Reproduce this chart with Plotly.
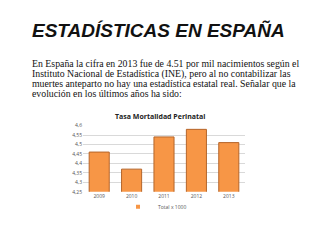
import plotly.graph_objects as go

years = ["2009", "2010", "2011", "2012", "2013"]
values = [4.46, 4.37, 4.54, 4.58, 4.51]
tick_vals = [4.25, 4.3, 4.35, 4.4, 4.45, 4.5, 4.55, 4.6]
tick_text = ["4,25", "4,3", "4,35", "4,4", "4,45", "4,5", "4,55", "4,6"]
series_name = "Total x 1000"
main_title = "ESTADÍSTICAS EN ESPAÑA"
chart_title = "Tasa Mortalidad Perinatal"
paragraph = [
    "En España la cifra en 2013 fue de 4.51 por mil nacimientos según el",
    "Instituto Nacional de Estadística (INE), pero al no contabilizar las",
    "muertes anteparto no hay una estadística estatal real. Señalar que la",
    "evolución en los últimos años ha sido:",
]

W, H = 320, 240
BAR = "#F79646"

def py(p):
    return 1 - p / H

fig = go.Figure()
fig.add_trace(go.Bar(
    x=years, y=values, name=series_name,
    marker=dict(color=BAR, line=dict(color="#B5652A", width=1)),
    showlegend=False,
))
fig.add_trace(go.Scatter(
    x=[None], y=[None], mode="markers", name=series_name,
    marker=dict(symbol="square", size=4, color=BAR),
    showlegend=True,
))

ann = [
    dict(text="<b><i>" + main_title + "</i></b>", x=158 / W, y=py(28), xref="paper", yref="paper",
         xanchor="center", yanchor="middle", showarrow=False,
         font=dict(family="Liberation Sans", size=19, color="#111111")),
    dict(text="<b>" + chart_title + "</b>", x=160 / W, y=py(116), xref="paper", yref="paper",
         xanchor="center", yanchor="middle", showarrow=False,
         font=dict(family="Open Sans", size=7, color="#222222")),
]
line_y = [62.5, 72.7, 82.9, 93.1]
for t, yy in zip(paragraph, line_y):
    ann.append(dict(text=t, x=30 / W, y=py(yy), xref="paper", yref="paper",
                    xanchor="left", yanchor="middle", showarrow=False,
                    font=dict(family="Liberation Serif", size=9.8, color="#111111")))

fig.update_layout(
    width=W, height=H, margin=dict(l=0, r=0, t=0, b=0),
    paper_bgcolor="white", plot_bgcolor="white",
    bargap=0.38,
    annotations=ann,
    xaxis=dict(domain=[83 / W, 245 / W], showgrid=False, showline=False, ticks="",
               tickfont=dict(family="Open Sans", size=5, color="#555555"), fixedrange=True),
    yaxis=dict(domain=[py(193.7), py(125.7)], range=[4.25, 4.6], tickvals=tick_vals, ticktext=tick_text,
               showgrid=True, gridcolor="#D9D9D9", gridwidth=1, zeroline=False, showline=False,
               tickfont=dict(family="Open Sans", size=5, color="#555555"), ticklen=0),
    legend=dict(orientation="h", x=155 / W, y=py(209), xanchor="center", yanchor="middle",
                font=dict(family="Open Sans", size=5, color="#555555"),
                itemwidth=30, tracegroupgap=0, bgcolor="rgba(0,0,0,0)"),
    showlegend=True,
)

fig.write_html("out.html")
